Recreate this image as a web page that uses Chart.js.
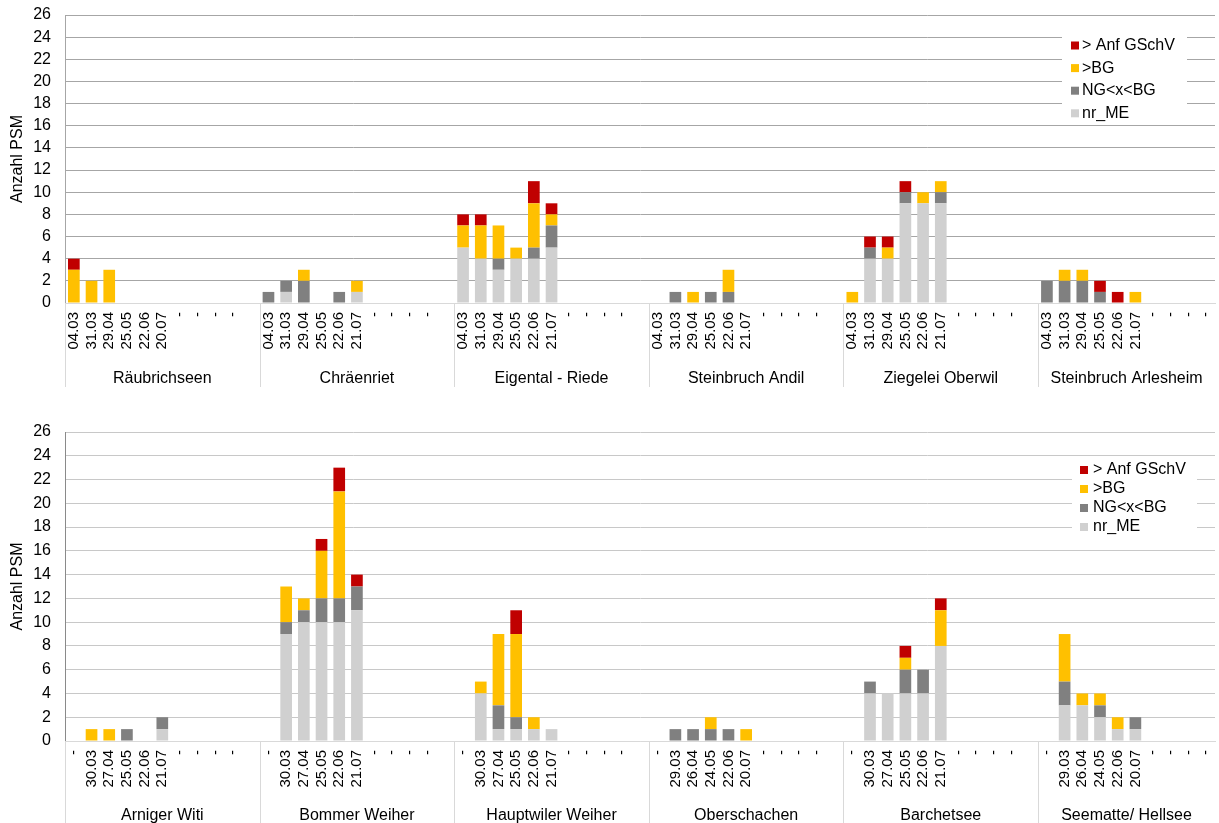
<!DOCTYPE html>
<html lang="de">
<head>
<meta charset="utf-8">
<title>Anzahl PSM pro Standort</title>
<script src="https://cdn.jsdelivr.net/npm/chart.js@4.4.1/dist/chart.umd.min.js"></script>
<style>
  html, body { margin: 0; padding: 0; background: #fff; overflow: hidden; }
  .panel { position: absolute; left: 0; width: 1219px; }
  #panelTop { top: 0; height: 400px; }
  #panelBottom { top: 400px; height: 423px; }
</style>
</head>
<body>
<div class="panel" id="panelTop"><canvas id="chartTop" width="1219" height="400"></canvas></div>
<div class="panel" id="panelBottom"><canvas id="chartBottom" width="1219" height="423"></canvas></div>
<script>
// series, stacked from the bottom up
const seriesNames = ['nr_ME', 'NG<x<BG', '>BG', '> Anf GSchV'];
const seriesColors = ['#d0d0d0', '#808080', '#ffc000', '#c00000'];
const yTicks = { min: 0, max: 26, step: 2 };

// upper panel: six sampling dates per site
const topSites = ['Räubrichseen', 'Chräenriet', 'Eigental - Riede', 'Steinbruch Andil', 'Ziegelei Oberwil', 'Steinbruch Arlesheim'];
const topDates = [
  ['04.03', '31.03', '29.04', '25.05', '22.06', '20.07'],
  ['04.03', '31.03', '29.04', '25.05', '22.06', '21.07'],
  ['04.03', '31.03', '29.04', '25.05', '22.06', '21.07'],
  ['04.03', '31.03', '29.04', '25.05', '22.06', '21.07'],
  ['04.03', '31.03', '29.04', '25.05', '22.06', '21.07'],
  ['04.03', '31.03', '29.04', '25.05', '22.06', '21.07']
];
const topNrMe = [[0, 0, 0, 0, 0, 0], [0, 1, 0, 0, 0, 1], [5, 4, 3, 4, 4, 5], [0, 0, 0, 0, 0, 0], [0, 4, 4, 9, 9, 9], [0, 0, 0, 0, 0, 0]];
const topNg   = [[0, 0, 0, 0, 0, 0], [1, 1, 2, 0, 1, 0], [0, 0, 1, 0, 1, 2], [0, 1, 0, 1, 1, 0], [0, 1, 0, 1, 0, 1], [2, 2, 2, 1, 0, 0]];
const topBg   = [[3, 2, 3, 0, 0, 0], [0, 0, 1, 0, 0, 1], [2, 3, 3, 1, 4, 1], [0, 0, 1, 0, 2, 0], [1, 0, 1, 0, 1, 1], [0, 1, 1, 0, 0, 1]];
const topAnf  = [[1, 0, 0, 0, 0, 0], [0, 0, 0, 0, 0, 0], [1, 1, 0, 0, 2, 1], [0, 0, 0, 0, 0, 0], [0, 1, 1, 1, 0, 0], [0, 0, 0, 1, 1, 0]];

// lower panel: five sampling dates per site
const bottomSites = ['Arniger Witi', 'Bommer Weiher', 'Hauptwiler Weiher', 'Oberschachen', 'Barchetsee', 'Seematte/ Hellsee'];
const bottomDates = [
  ['30.03', '27.04', '25.05', '22.06', '21.07'],
  ['30.03', '27.04', '25.05', '22.06', '21.07'],
  ['30.03', '27.04', '25.05', '22.06', '21.07'],
  ['29.03', '26.04', '24.05', '22.06', '20.07'],
  ['30.03', '27.04', '25.05', '22.06', '21.07'],
  ['29.03', '26.04', '24.05', '22.06', '20.07']
];
const bottomNrMe = [[0, 0, 0, 0, 1], [9, 10, 10, 10, 11], [4, 1, 1, 1, 1], [0, 0, 0, 0, 0], [4, 4, 4, 4, 8], [3, 3, 2, 1, 1]];
const bottomNg   = [[0, 0, 1, 0, 1], [1, 1, 2, 2, 2], [0, 2, 1, 0, 0], [1, 1, 1, 1, 0], [1, 0, 2, 2, 0], [2, 0, 1, 0, 1]];
const bottomBg   = [[1, 1, 0, 0, 0], [3, 1, 4, 9, 0], [1, 6, 7, 1, 0], [0, 0, 1, 0, 1], [0, 0, 1, 0, 3], [4, 1, 1, 1, 0]];
const bottomAnf  = [[0, 0, 0, 0, 0], [0, 0, 1, 2, 1], [0, 0, 2, 0, 0], [0, 0, 0, 0, 0], [0, 0, 1, 0, 1], [0, 0, 0, 0, 0]];

Chart.defaults.font.family = '"Liberation Sans", Arial, sans-serif';
Chart.defaults.color = '#000';

// lay the sites out on one category axis: empty "-" slots around the dates,
// plus one blank spacer slot between sites
function buildSlots(sites, dates, series, lead) {
  const labels = [];
  const values = series.map(() => []);
  const groups = [];
  sites.forEach((site, g) => {
    const start = labels.length;
    const slots = [];
    for (let i = 0; i < lead; i++) slots.push('-');
    dates[g].forEach(d => slots.push(d));
    for (let i = 0; i < 4; i++) slots.push('-');
    if (g < sites.length - 1) slots.push('');
    slots.forEach((lab, i) => {
      labels.push(lab);
      const k = i - lead;
      series.forEach((s, j) => {
        values[j].push(k >= 0 && k < dates[g].length ? s[g][k] : null);
      });
    });
    groups.push({ name: site, start: start, end: labels.length - 1 });
  });
  return { labels, values, groups };
}

// site names and separator lines under the date labels
function siteAxis(groups, labelOffset, lineLength) {
  return {
    id: 'siteAxis',
    afterDraw(chart) {
      const { ctx, chartArea } = chart;
      const x = chart.scales.x;
      const slot = x.getPixelForValue(1) - x.getPixelForValue(0);
      ctx.save();
      ctx.strokeStyle = '#d9d9d9';
      ctx.lineWidth = 1;
      ctx.fillStyle = '#000';
      ctx.font = '16px "Liberation Sans", Arial, sans-serif';
      ctx.textAlign = 'center';
      ctx.textBaseline = 'middle';
      groups.forEach(g => {
        const left = x.getPixelForValue(g.start) - slot / 2;
        const right = x.getPixelForValue(g.end) + slot / 2;
        const lx = Math.round(left) + 0.5;
        ctx.beginPath();
        ctx.moveTo(lx, chartArea.bottom);
        ctx.lineTo(lx, chartArea.bottom + lineLength);
        ctx.stroke();
        ctx.fillText(g.name, (left + right) / 2, chartArea.bottom + labelOffset);
      });
      ctx.restore();
    }
  };
}

// legend box inside the plot, top series first
function legendBox(box) {
  return {
    id: 'legendBox',
    afterDraw(chart) {
      const { ctx, chartArea } = chart;
      const left = chartArea.right - box.right;
      const top = chartArea.top + box.top;
      ctx.save();
      ctx.fillStyle = '#fff';
      ctx.fillRect(left, top, box.width, box.height);
      ctx.font = '16px "Liberation Sans", Arial, sans-serif';
      ctx.textBaseline = 'middle';
      const sets = chart.data.datasets.slice().reverse();
      sets.forEach((ds, i) => {
        const cy = top + box.firstRow + i * box.row;
        ctx.fillStyle = ds.backgroundColor;
        ctx.fillRect(left + box.marker, cy - 4, 8, 8);
        ctx.fillStyle = '#000';
        ctx.fillText(ds.label, left + box.text, cy);
      });
      ctx.restore();
    }
  };
}

function makeChart(id, built, opts) {
  const datasets = seriesNames.map((name, i) => ({
    label: name,
    data: built.values[i],
    backgroundColor: seriesColors[i],
    borderWidth: 0,
    barPercentage: 1,
    categoryPercentage: 0.66
  }));
  return new Chart(document.getElementById(id), {
    type: 'bar',
    data: { labels: built.labels, datasets: datasets },
    options: {
      responsive: false,
      animation: false,
      layout: { padding: { top: opts.padTop, right: 4, left: 0, bottom: 0 } },
      plugins: { legend: { display: false }, tooltip: { enabled: false } },
      scales: {
        x: {
          stacked: true,
          grid: { display: false, drawTicks: false },
          border: { color: '#d9d9d9' },
          ticks: { autoSkip: false, maxRotation: 90, minRotation: 90, padding: 9, font: { size: 15 } },
          // fixed band height, no extra side margin for the rotated labels
          afterFit: s => { s.height = opts.xHeight; s.paddingLeft = 0; s.paddingRight = 0; }
        },
        y: {
          stacked: true,
          min: yTicks.min,
          max: yTicks.max,
          ticks: { stepSize: yTicks.step, autoSkip: false, padding: 14, font: { size: 16 } },
          grid: { color: c => c.tick.value === 0 ? '#d9d9d9' : opts.gridColor, drawTicks: false },
          border: { color: opts.axisColor },
          title: { display: true, text: 'Anzahl PSM', font: { size: 16 }, padding: { top: 8, bottom: 0 } },
          afterFit: s => { s.width = 65; s.paddingTop = 0; s.paddingBottom = 0; }
        }
      }
    },
    plugins: [siteAxis(built.groups, opts.labelOffset, opts.lineLength), legendBox(opts.legend)]
  });
}

document.addEventListener('DOMContentLoaded', function () {
  const top = buildSlots(topSites, topDates, [topNrMe, topNg, topBg, topAnf], 0);
  makeChart('chartTop', top, {
    padTop: 15, xHeight: 97, gridColor: '#a6a6a6', axisColor: '#a6a6a6',
    labelOffset: 76, lineLength: 84,
    legend: { right: 153, top: 18, width: 125, height: 89, firstRow: 12.5, row: 22.6, marker: 9, text: 20 }
  });

  const bottom = buildSlots(bottomSites, bottomDates, [bottomNrMe, bottomNg, bottomBg, bottomAnf], 1);
  makeChart('chartBottom', bottom, {
    padTop: 32, xHeight: 82, gridColor: '#c8c8c8', axisColor: '#8a8a8a',
    labelOffset: 75, lineLength: 90,
    legend: { right: 143, top: 26, width: 125, height: 77, firstRow: 12, row: 19, marker: 8, text: 21 }
  });
});
</script>
</body>
</html>
